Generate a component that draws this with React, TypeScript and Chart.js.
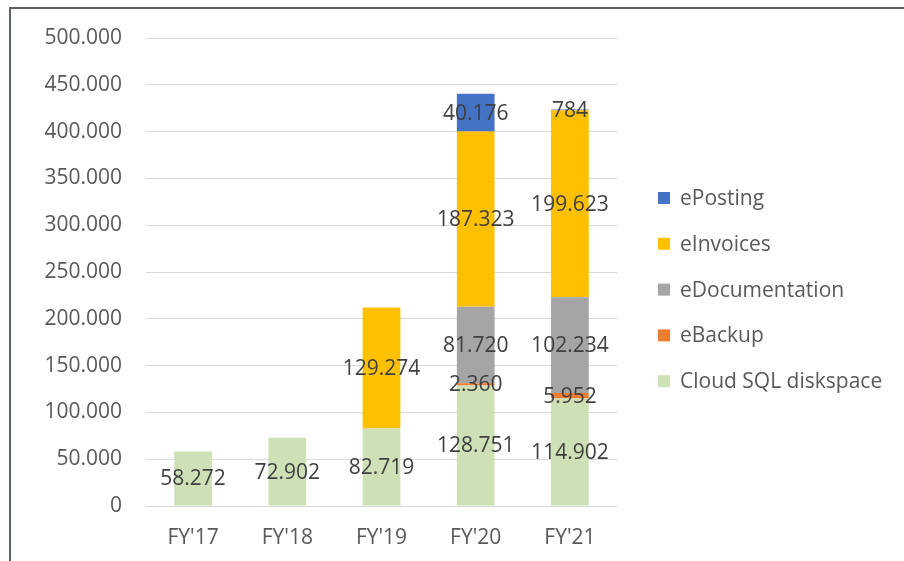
import React, { useEffect, useRef } from "react";
import { Chart, registerables } from "chart.js";

Chart.register(...registerables);

const categories = ["FY'17", "FY'18", "FY'19", "FY'20", "FY'21"];
const cloudSql = [58272, 72902, 82719, 128751, 114902];
const eBackup = [null, null, null, 2360, 5952];
const eDocumentation = [null, null, null, 81720, 102234];
const eInvoices = [null, null, 129274, 187323, 199623];
const ePosting = [null, null, null, 40176, 784];

const seriesNames = ["Cloud SQL diskspace", "eBackup", "eDocumentation", "eInvoices", "ePosting"];
const seriesColors = ["#CDE0B6", "#ED7D31", "#A5A5A5", "#FFC000", "#4472C4"];

const FONT = "'Open Sans', 'Liberation Sans', sans-serif";

function fmt(v: number): string {
  return Math.round(v).toString().replace(/\B(?=(\d{3})+(?!\d))/g, ".");
}

const labelPlugin = {
  id: "segLabels",
  afterDatasetsDraw(chart: any) {
    const ctx = chart.ctx;
    ctx.save();
    ctx.font = `21px ${FONT}`;
    ctx.fillStyle = "#404040";
    ctx.textAlign = "center";
    ctx.textBaseline = "middle";
    chart.data.datasets.forEach((ds: any, di: number) => {
      const meta = chart.getDatasetMeta(di);
      meta.data.forEach((el: any, i: number) => {
        const v = ds.data[i];
        if (v == null) return;
        const mid = (el.y + el.base) / 2;
        ctx.fillText(fmt(v), el.x, mid + 1);
      });
    });
    ctx.restore();
  },
};

const legendPlugin = {
  id: "customLegend",
  afterDraw(chart: any) {
    const ctx = chart.ctx;
    const area = chart.chartArea;
    ctx.save();
    ctx.font = `21px ${FONT}`;
    ctx.textBaseline = "middle";
    ctx.textAlign = "left";
    const x0 = area.right + 41;
    const yStart = 198;
    const step = 45.8;
    const n = chart.data.datasets.length;
    for (let k = 0; k < n; k++) {
      const di = n - 1 - k;
      const ds = chart.data.datasets[di];
      const y = yStart + k * step;
      ctx.fillStyle = ds.backgroundColor;
      ctx.fillRect(x0, y - 6, 12, 12);
      ctx.fillStyle = "#595959";
      ctx.fillText(ds.label, x0 + 22, y + 1);
    }
    ctx.restore();
  },
};

export default function App() {
  const ref = useRef<HTMLCanvasElement | null>(null);
  useEffect(() => {
    if (!ref.current) return;
    const seriesData = [cloudSql, eBackup, eDocumentation, eInvoices, ePosting];
    const chart = new Chart(ref.current, {
      type: "bar",
      data: {
        labels: categories,
        datasets: seriesData.map((d, i) => ({
          label: seriesNames[i],
          data: d as any,
          backgroundColor: seriesColors[i],
          borderWidth: 0,
          barPercentage: 0.4,
          categoryPercentage: 1,
        })),
      },
      options: {
        animation: false,
        responsive: false,
        maintainAspectRatio: false,
        layout: { padding: { left: 44, top: 38, right: 287, bottom: 11 } },
        plugins: {
          legend: { display: false },
          tooltip: { enabled: false },
        },
        scales: {
          x: {
            stacked: true,
            grid: { display: false, drawTicks: false },
            border: { display: false },
            afterFit: (s: any) => {
              s.height = 44;
            },
            ticks: { color: "#595959", font: { size: 21, family: FONT }, padding: 19 },
          },
          y: {
            stacked: true,
            min: 0,
            max: 500000,
            grid: { color: "#D9D9D9", lineWidth: 1, drawTicks: false },
            border: { display: false },
            afterFit: (s: any) => {
              s.width = 102;
            },
            ticks: {
              stepSize: 50000,
              color: "#595959",
              font: { size: 21, family: FONT },
              padding: 24,
              callback: (v: any) => fmt(Number(v)),
            },
          },
        },
      },
      plugins: [labelPlugin, legendPlugin],
    });
    return () => chart.destroy();
  }, []);

  return (
    <div style={{ position: "absolute", left: 0, top: 0, width: 904, height: 561, background: "#fff", overflow: "hidden" }}>
      <div
        style={{
          position: "absolute",
          left: 9,
          top: 7,
          width: 904,
          height: 561,
          borderTop: "2px solid #5c6166",
          borderLeft: "2px solid #5c6166",
        }}
      />
      <canvas ref={ref} width={904} height={561} style={{ position: "absolute", left: 0, top: 0 }} />
    </div>
  );
}
